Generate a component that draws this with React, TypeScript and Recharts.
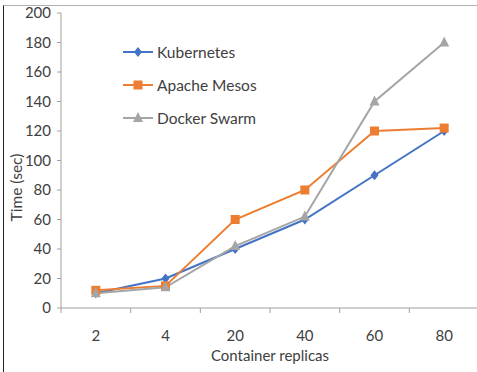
import { LineChart, Line, XAxis, YAxis, Legend } from "recharts"

const categories = ["2", "4", "20", "40", "60", "80"]
const kubernetes = [10, 20, 40, 60, 90, 120]
const apacheMesos = [12, 15, 60, 80, 120, 122]
const dockerSwarm = [10, 14, 42, 62, 140, 180]
const yTicks = [0, 20, 40, 60, 80, 100, 120, 140, 160, 180, 200]

const data = categories.map((name, i) => ({
  pos: i + 0.5,
  name,
  kubernetes: kubernetes[i],
  apacheMesos: apacheMesos[i],
  dockerSwarm: dockerSwarm[i],
}))

// boundary ticks at integers, category labels at half steps
const xTicks = categories.flatMap((_, i) => [i, i + 0.5]).concat(categories.length)

const FONT = "Lato, 'Open Sans', sans-serif"
const TEXT = "#404040"
const AXIS = "#a0a0a0"

const series = [
  { key: "kubernetes", label: "Kubernetes", color: "#4472C4", shape: "diamond" },
  { key: "apacheMesos", label: "Apache Mesos", color: "#ED7D31", shape: "square" },
  { key: "dockerSwarm", label: "Docker Swarm", color: "#A5A5A5", shape: "triangle" },
]

function Marker({ cx, cy, shape, color }: any) {
  if (cx == null || cy == null) return null
  if (shape === "diamond")
    return <path d={`M${cx},${cy - 5}L${cx + 4},${cy}L${cx},${cy + 5}L${cx - 4},${cy}Z`} fill={color} />
  if (shape === "square")
    return <rect x={cx - 4.5} y={cy - 4.5} width={9} height={9} fill={color} />
  return <path d={`M${cx},${cy - 6}L${cx + 5},${cy + 4}L${cx - 5},${cy + 4}Z`} fill={color} />
}

function XTick({ x, y, payload }: any) {
  const v = payload.value
  if (Number.isInteger(v)) {
    return <line x1={x} x2={x} y1={y} y2={y + 5} stroke={AXIS} strokeWidth={1} />
  }
  return (
    <text x={x} y={y + 27} textAnchor="middle" dominantBaseline="central" fill={TEXT} fontSize={15} fontFamily={FONT}>
      {categories[Math.floor(v)]}
    </text>
  )
}

function LegendBox() {
  return (
    <div style={{ fontFamily: FONT, fontSize: 15.5, color: TEXT }}>
      {series.map((s) => (
        <div key={s.key} style={{ display: "flex", alignItems: "center", height: 33 }}>
          <svg width={32} height={14} style={{ marginRight: 3 }}>
            <line x1={1} x2={31} y1={7} y2={7} stroke={s.color} strokeWidth={2} />
            <Marker cx={16} cy={7} shape={s.shape} color={s.color} />
          </svg>
          <span>{s.label}</span>
        </div>
      ))}
    </div>
  )
}

export default function App() {
  return (
    <div style={{ position: "absolute", left: 0, top: 0, width: 477, height: 372, overflow: "hidden", background: "#fff" }}>
      <div
        style={{
          position: "absolute",
          left: 3,
          top: 5,
          width: 474,
          height: 367,
          borderLeft: "1px solid #222",
          borderTop: "1px solid #b0b0b0",
        }}
      />
      <div style={{ position: "absolute", left: 0, top: 0 }}>
        <LineChart width={479} height={372} data={data} margin={{ top: 13, right: 0, left: 0, bottom: 0 }}>
          <XAxis
            dataKey="pos"
            type="number"
            domain={[0, categories.length]}
            ticks={xTicks}
            interval={0}
            height={64}
            tickSize={0}
            tickMargin={0}
            tickLine={false}
            tick={<XTick />}
            axisLine={{ stroke: AXIS }}
            label={(props: any) => {
              const vb = props.viewBox
              return (
                <text
                  x={vb.x + vb.width / 2}
                  y={vb.y + 47}
                  textAnchor="middle"
                  dominantBaseline="central"
                  fill={TEXT}
                  fontSize={15}
                  fontFamily={FONT}
                >
                  Container replicas
                </text>
              )
            }}
          />
          <YAxis
            width={61}
            domain={[0, 200]}
            ticks={yTicks}
            interval={0}
            tickSize={4}
            tickMargin={6}
            tickLine={{ stroke: AXIS }}
            axisLine={{ stroke: AXIS }}
            tick={{ fill: TEXT, fontSize: 15, fontFamily: FONT }}
            label={(props: any) => {
              const vb = props.viewBox
              const cy = vb.y + vb.height / 2 + 27
              return (
                <text
                  x={16}
                  y={cy}
                  transform={`rotate(-90 16 ${cy})`}
                  textAnchor="middle"
                  dominantBaseline="central"
                  fill={TEXT}
                  fontSize={15.5}
                  fontFamily={FONT}
                >
                  Time (sec)
                </text>
              )
            }}
          />
          <Legend
            layout="vertical"
            align="center"
            verticalAlign="middle"
            wrapperStyle={{ left: 122, top: 35, width: 150 }}
            content={() => <LegendBox />}
          />
          {series.map((s) => (
            <Line
              key={s.key}
              dataKey={s.key}
              stroke={s.color}
              strokeWidth={2}
              dot={(p: any) => <Marker key={`${s.key}-${p.index}`} cx={p.cx} cy={p.cy} shape={s.shape} color={s.color} />}
              activeDot={false}
              isAnimationActive={false}
            />
          ))}
        </LineChart>
      </div>
    </div>
  )
}
